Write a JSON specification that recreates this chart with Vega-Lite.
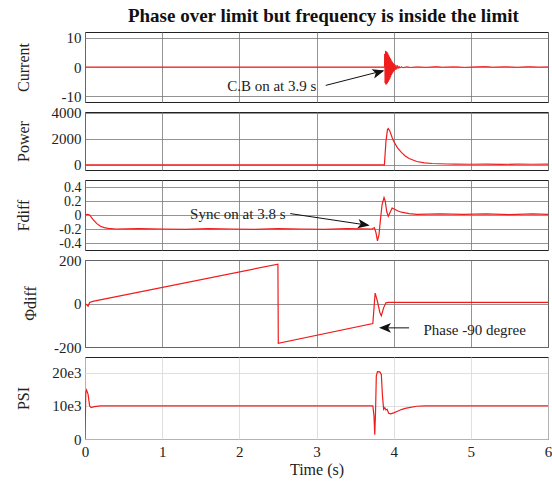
{
  "$schema": "https://vega.github.io/schema/vega-lite/v6.json",
  "padding": {"left": 14, "top": 7, "right": 3, "bottom": 4},
  "title": {"text": "Phase over limit but frequency is inside the limit", "font": "Liberation Serif", "fontSize": 19, "fontWeight": "bold", "color": "#111", "anchor": "middle", "dx": 40, "offset": 4},
  "bounds": "flush",
  "spacing": 10,
  "datasets": {
    "current": [
      {"t": 0, "v": 0}, {"t": 3.88, "v": 0},
      {"t": 3.885, "v": 4.5}, {"t": 3.89, "v": -5.5}, {"t": 3.895, "v": 5.5}, {"t": 3.9, "v": -6}, {"t": 3.905, "v": 5.3}, {"t": 3.91, "v": -5.8},
      {"t": 3.915, "v": 5}, {"t": 3.92, "v": -5.5}, {"t": 3.925, "v": 4.6}, {"t": 3.93, "v": -5}, {"t": 3.935, "v": 4}, {"t": 3.94, "v": -4.5},
      {"t": 3.945, "v": 3.5}, {"t": 3.95, "v": -4}, {"t": 3.955, "v": 3}, {"t": 3.96, "v": -3.4}, {"t": 3.965, "v": 2.5}, {"t": 3.97, "v": -2.8},
      {"t": 3.975, "v": 2}, {"t": 3.98, "v": -2.3}, {"t": 3.985, "v": 1.6}, {"t": 3.99, "v": -1.8}, {"t": 3.995, "v": 1.3}, {"t": 4.0, "v": -1.5},
      {"t": 4.005, "v": 1}, {"t": 4.01, "v": -1.2}, {"t": 4.015, "v": 0.8}, {"t": 4.02, "v": -1}, {"t": 4.03, "v": 0.6}, {"t": 4.04, "v": -0.8},
      {"t": 4.05, "v": 0.5}, {"t": 4.06, "v": -0.5}, {"t": 4.07, "v": 0.3}, {"t": 4.08, "v": -0.4}, {"t": 4.1, "v": 0.2}, {"t": 4.12, "v": -0.25},
      {"t": 4.17, "v": 0.1}, {"t": 4.22, "v": -0.15}, {"t": 4.3, "v": 0.05}, {"t": 4.42, "v": -0.1}, {"t": 4.55, "v": 0.12}, {"t": 4.63, "v": -0.05},
      {"t": 4.8, "v": 0.08}, {"t": 4.92, "v": -0.12}, {"t": 5.05, "v": 0.05}, {"t": 5.2, "v": 0.15}, {"t": 5.28, "v": -0.05}, {"t": 5.45, "v": 0.1},
      {"t": 5.6, "v": -0.08}, {"t": 5.75, "v": 0.12}, {"t": 5.88, "v": -0.02}, {"t": 6.0, "v": 0.05}
    ],
    "power": [
      {"t": 0, "v": 0}, {"t": 3.88, "v": 0}, {"t": 3.9, "v": 1800}, {"t": 3.92, "v": 2700}, {"t": 3.93, "v": 2780}, {"t": 3.95, "v": 2600},
      {"t": 3.98, "v": 2100}, {"t": 4.0, "v": 1800}, {"t": 4.05, "v": 1300}, {"t": 4.1, "v": 950}, {"t": 4.15, "v": 680}, {"t": 4.2, "v": 480},
      {"t": 4.3, "v": 250}, {"t": 4.4, "v": 150}, {"t": 4.5, "v": 100}, {"t": 4.7, "v": 60}, {"t": 4.8, "v": 50}, {"t": 5.0, "v": 40},
      {"t": 5.2, "v": 55}, {"t": 5.4, "v": 30}, {"t": 5.6, "v": 50}, {"t": 5.8, "v": 40}, {"t": 6.0, "v": 45}
    ],
    "fdiff": [
      {"t": 0, "v": 0}, {"t": 0.03, "v": 0.01}, {"t": 0.06, "v": 0}, {"t": 0.1, "v": -0.06}, {"t": 0.15, "v": -0.12}, {"t": 0.2, "v": -0.16},
      {"t": 0.25, "v": -0.18}, {"t": 0.3, "v": -0.19}, {"t": 0.4, "v": -0.2}, {"t": 0.7, "v": -0.195}, {"t": 1.0, "v": -0.2}, {"t": 1.3, "v": -0.205},
      {"t": 1.6, "v": -0.195}, {"t": 1.9, "v": -0.2}, {"t": 2.2, "v": -0.205}, {"t": 2.5, "v": -0.195}, {"t": 2.8, "v": -0.2}, {"t": 3.1, "v": -0.205},
      {"t": 3.4, "v": -0.195}, {"t": 3.72, "v": -0.2}, {"t": 3.75, "v": -0.18}, {"t": 3.77, "v": -0.25}, {"t": 3.79, "v": -0.37}, {"t": 3.81, "v": -0.28},
      {"t": 3.83, "v": -0.05}, {"t": 3.85, "v": 0.15}, {"t": 3.875, "v": 0.25}, {"t": 3.89, "v": 0.2}, {"t": 3.91, "v": 0.05}, {"t": 3.93, "v": -0.02},
      {"t": 3.95, "v": 0.03}, {"t": 3.98, "v": 0.1}, {"t": 4.0, "v": 0.09}, {"t": 4.05, "v": 0.06}, {"t": 4.1, "v": 0.04}, {"t": 4.2, "v": 0.02},
      {"t": 4.3, "v": 0.01}, {"t": 4.6, "v": 0.015}, {"t": 4.9, "v": 0.01}, {"t": 5.2, "v": 0.015}, {"t": 5.5, "v": 0.005}, {"t": 5.8, "v": 0.015}, {"t": 6.0, "v": 0.01}
    ],
    "phi": [
      {"t": 0, "v": 0}, {"t": 0.02, "v": -5}, {"t": 0.04, "v": -12}, {"t": 0.06, "v": 5}, {"t": 0.1, "v": 10}, {"t": 2.5, "v": 181},
      {"t": 2.505, "v": -183}, {"t": 3.73, "v": -92}, {"t": 3.76, "v": 48}, {"t": 3.79, "v": 10}, {"t": 3.82, "v": -40}, {"t": 3.84, "v": -56},
      {"t": 3.87, "v": -20}, {"t": 3.9, "v": 3}, {"t": 3.93, "v": 5}, {"t": 6.0, "v": 5}
    ],
    "psi": [
      {"t": 0, "v": 0}, {"t": 0.01, "v": 14000}, {"t": 0.02, "v": 14800}, {"t": 0.04, "v": 13500}, {"t": 0.06, "v": 10000}, {"t": 0.08, "v": 9500},
      {"t": 0.12, "v": 9800}, {"t": 0.2, "v": 10000}, {"t": 3.73, "v": 10000}, {"t": 3.745, "v": 7000}, {"t": 3.755, "v": 1300}, {"t": 3.765, "v": 8000},
      {"t": 3.775, "v": 19000}, {"t": 3.79, "v": 20400}, {"t": 3.82, "v": 20300}, {"t": 3.84, "v": 19500}, {"t": 3.855, "v": 13000}, {"t": 3.87, "v": 9000},
      {"t": 3.885, "v": 9500}, {"t": 3.9, "v": 8800}, {"t": 3.915, "v": 9000}, {"t": 3.935, "v": 7800}, {"t": 3.96, "v": 7600}, {"t": 4.0, "v": 7900},
      {"t": 4.05, "v": 8400}, {"t": 4.1, "v": 8900}, {"t": 4.15, "v": 9250}, {"t": 4.2, "v": 9500}, {"t": 4.3, "v": 9900}, {"t": 4.4, "v": 10000}, {"t": 6.0, "v": 10000}
    ]
  },
  "vconcat": [
    {
      "width": 463, "height": 70,
      "resolve": {"axis": {"x": "independent", "y": "independent"}},
      "layer": [
        {
          "data": {"name": "current"},
          "mark": {"type": "line", "color": "#f01c1c", "strokeWidth": 1, "clip": true},
          "encoding": {
            "x": {"field": "t", "type": "quantitative", "scale": {"domain": [0, 6], "nice": false}, "axis": {"title": null, "labels": false, "values": [0, 1, 2, 3, 4, 5, 6]}},
            "y": {"field": "v", "type": "quantitative", "scale": {"domain": [-12, 12], "nice": false}, "axis": {"title": "Current", "values": [-10, 0, 10], "labelOverlap": false, "labelExpr": "datum.value < 0 ? '-' + (-datum.value) : '' + datum.value", "titleX": -62, "titleY": 35, "titleBaseline": "middle", "titleAlign": "center"}}
          }
        },
        {
          "data": {"values": [{"t": 3.12, "v": -6.3, "t2": 3.86, "v2": -1.3}]},
          "mark": {"type": "rule", "color": "#111", "strokeWidth": 1},
          "encoding": {"x": {"field": "t", "type": "quantitative", "axis": null}, "y": {"field": "v", "type": "quantitative", "axis": null}, "x2": {"field": "t2"}, "y2": {"field": "v2"}}
        },
        {
          "data": {"values": [{"t": 3.88, "v": -1.2}]},
          "mark": {"type": "point", "shape": "M0,0L-1,-0.4L-0.75,0L-1,0.4Z", "filled": true, "color": "#111", "opacity": 1, "size": 576, "angle": -16},
          "encoding": {"x": {"field": "t", "type": "quantitative", "axis": null}, "y": {"field": "v", "type": "quantitative", "axis": null}}
        },
        {
          "data": {"values": [{"t": 2.42, "v": -6.4, "label": "C.B on at 3.9 s"}]},
          "mark": {"type": "text", "font": "Liberation Serif", "fontSize": 15, "color": "#222", "align": "center", "baseline": "middle"},
          "encoding": {"x": {"field": "t", "type": "quantitative", "axis": null}, "y": {"field": "v", "type": "quantitative", "axis": null}, "text": {"field": "label"}}
        }
      ]
    },
    {
      "width": 463, "height": 58,
      "data": {"name": "power"},
      "mark": {"type": "line", "color": "#f01c1c", "strokeWidth": 1.2, "clip": true},
      "encoding": {
        "x": {"field": "t", "type": "quantitative", "scale": {"domain": [0, 6], "nice": false}, "axis": {"title": null, "labels": false, "values": [0, 1, 2, 3, 4, 5, 6]}},
        "y": {"field": "v", "type": "quantitative", "scale": {"domain": [-400, 4050], "nice": false}, "axis": {"title": "Power", "values": [0, 2000, 4000], "format": "d", "labelOverlap": false, "titleX": -62, "titleY": 29, "titleBaseline": "middle", "titleAlign": "center"}}
      }
    },
    {
      "width": 463, "height": 70,
      "resolve": {"axis": {"x": "independent", "y": "independent"}},
      "layer": [
        {
          "data": {"name": "fdiff"},
          "mark": {"type": "line", "color": "#f01c1c", "strokeWidth": 1.2, "clip": true},
          "encoding": {
            "x": {"field": "t", "type": "quantitative", "scale": {"domain": [0, 6], "nice": false}, "axis": {"title": null, "labels": false, "values": [0, 1, 2, 3, 4, 5, 6]}},
            "y": {"field": "v", "type": "quantitative", "scale": {"domain": [-0.5, 0.5], "nice": false}, "axis": {"title": "Fdiff", "values": [-0.4, -0.2, 0, 0.2, 0.4], "labelOverlap": false, "labelFontSize": 14, "labelExpr": "datum.value < 0 ? '-' + format(-datum.value, '.1~f') : format(datum.value, '.1~f')", "titleX": -62, "titleY": 35, "titleBaseline": "middle", "titleAlign": "center"}}
          }
        },
        {
          "data": {"values": [{"t": 2.66, "v": 0.02, "t2": 3.66, "v2": -0.145}]},
          "mark": {"type": "rule", "color": "#111", "strokeWidth": 1},
          "encoding": {"x": {"field": "t", "type": "quantitative", "axis": null}, "y": {"field": "v", "type": "quantitative", "axis": null}, "x2": {"field": "t2"}, "y2": {"field": "v2"}}
        },
        {
          "data": {"values": [{"t": 3.69, "v": -0.15}]},
          "mark": {"type": "point", "shape": "M0,0L-1,-0.4L-0.75,0L-1,0.4Z", "filled": true, "color": "#111", "opacity": 1, "size": 576, "angle": 9},
          "encoding": {"x": {"field": "t", "type": "quantitative", "axis": null}, "y": {"field": "v", "type": "quantitative", "axis": null}}
        },
        {
          "data": {"values": [{"t": 1.98, "v": 0.01, "label": "Sync on at 3.8 s"}]},
          "mark": {"type": "text", "font": "Liberation Serif", "fontSize": 15, "color": "#222", "align": "center", "baseline": "middle"},
          "encoding": {"x": {"field": "t", "type": "quantitative", "axis": null}, "y": {"field": "v", "type": "quantitative", "axis": null}, "text": {"field": "label"}}
        }
      ]
    },
    {
      "width": 463, "height": 87,
      "resolve": {"axis": {"x": "independent", "y": "independent"}},
      "layer": [
        {
          "data": {"name": "phi"},
          "mark": {"type": "line", "color": "#f01c1c", "strokeWidth": 1.2, "clip": true},
          "encoding": {
            "x": {"field": "t", "type": "quantitative", "scale": {"domain": [0, 6], "nice": false}, "axis": {"title": null, "labels": false, "values": [0, 1, 2, 3, 4, 5, 6]}},
            "y": {"field": "v", "type": "quantitative", "scale": {"domain": [-200, 200], "nice": false}, "axis": {"title": "Φdiff", "values": [-200, 0, 200], "labelOverlap": false, "labelExpr": "datum.value < 0 ? '-' + (-datum.value) : '' + datum.value", "titleX": -55, "titleY": 43, "titleBaseline": "middle", "titleAlign": "center"}}
          }
        },
        {
          "data": {"values": [{"t": 3.86, "v": -112, "t2": 4.2, "v2": -112}]},
          "mark": {"type": "rule", "color": "#111", "strokeWidth": 1},
          "encoding": {"x": {"field": "t", "type": "quantitative", "axis": null}, "y": {"field": "v", "type": "quantitative", "axis": null}, "x2": {"field": "t2"}, "y2": {"field": "v2"}}
        },
        {
          "data": {"values": [{"t": 3.81, "v": -112}]},
          "mark": {"type": "point", "shape": "M0,0L-1,-0.4L-0.75,0L-1,0.4Z", "filled": true, "color": "#111", "opacity": 1, "size": 576, "angle": 180},
          "encoding": {"x": {"field": "t", "type": "quantitative", "axis": null}, "y": {"field": "v", "type": "quantitative", "axis": null}}
        },
        {
          "data": {"values": [{"t": 5.05, "v": -122, "label": "Phase -90 degree"}]},
          "mark": {"type": "text", "font": "Liberation Serif", "fontSize": 15, "color": "#222", "align": "center", "baseline": "middle"},
          "encoding": {"x": {"field": "t", "type": "quantitative", "axis": null}, "y": {"field": "v", "type": "quantitative", "axis": null}, "text": {"field": "label"}}
        }
      ]
    },
    {
      "width": 463, "height": 82,
      "data": {"name": "psi"},
      "mark": {"type": "line", "color": "#f01c1c", "strokeWidth": 1.2, "clip": true},
      "encoding": {
        "x": {"field": "t", "type": "quantitative", "scale": {"domain": [0, 6], "nice": false}, "axis": {"title": "Time (s)", "values": [0, 1, 2, 3, 4, 5, 6], "gridColor": "#d8d8d8", "labelPadding": 5, "titlePadding": 2}},
        "y": {"field": "v", "type": "quantitative", "scale": {"domain": [0, 24800], "nice": false}, "axis": {"title": "PSI", "values": [0, 10000, 20000], "labelOverlap": false, "gridColor": "#d8d8d8", "labelExpr": "datum.value == 0 ? '0' : (datum.value / 1000) + 'e3'", "titleX": -62, "titleY": 41, "titleBaseline": "middle", "titleAlign": "center"}}
      }
    }
  ],
  "config": {
    "font": "Liberation Serif",
    "background": "white",
    "text": {"font": "Liberation Serif"},
    "view": {"stroke": "#222", "strokeWidth": 1},
    "axis": {
      "labelFont": "Liberation Serif", "labelFontSize": 15, "labelColor": "#222",
      "titleFont": "Liberation Serif", "titleFontSize": 16, "titleFontWeight": "normal", "titleColor": "#222",
      "domain": false, "ticks": false, "tickSize": 0, "labelPadding": 4,
      "gridColor": "#777", "gridOpacity": 1, "gridWidth": 0.8,
      "labelFlush": false, "labelOverlap": false, "labelSeparation": 0
    }
  }
}
